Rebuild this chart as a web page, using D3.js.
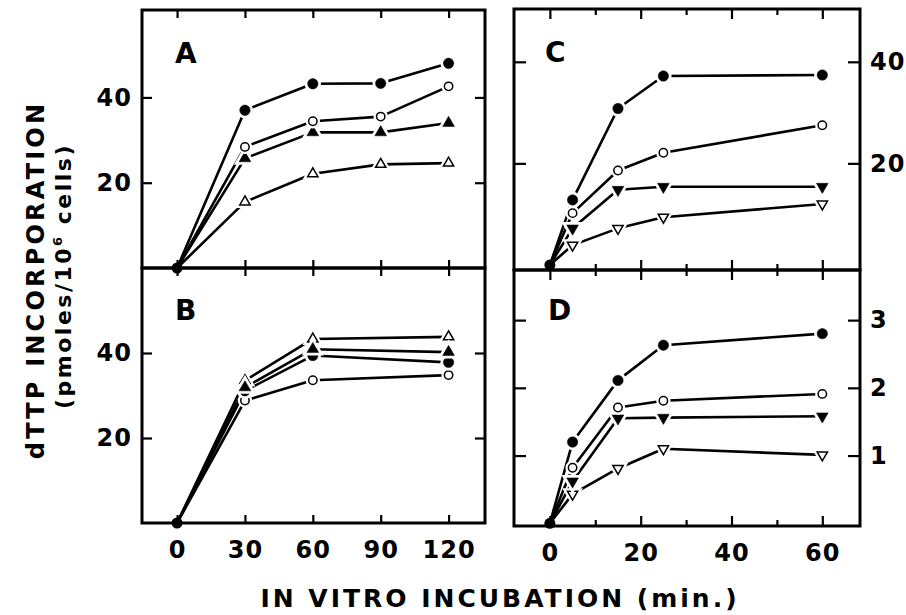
<!DOCTYPE html>
<html>
<head>
<meta charset="utf-8">
<script src="https://cdn.jsdelivr.net/npm/d3@7"></script>
<style>
  body { margin: 0; background: #fff; }
  text { font-family: "DejaVu Sans", "Liberation Sans", sans-serif; fill: #000; }
</style>
</head>
<body>
<div id="chart"></div>
<script>
// x values (minutes)
const timesA = [0, 30, 60, 90, 120];
const timesB = [0, 30, 60, 120];
const timesCD = [0, 5, 15, 25, 60];

// panel A
const aClosedCircle = [0, 37.0, 43.2, 43.3, 48.0];
const aOpenCircle = [0, 28.4, 34.4, 35.5, 42.6];
const aClosedTriangle = [0, 25.7, 31.8, 31.8, 34.0];
const aOpenTriangle = [0, 15.5, 22.1, 24.3, 24.6];

// panel B
const bOpenTriangle = [0, 33.5, 43.3, 43.8];
const bClosedTriangle = [0, 31.9, 40.9, 40.2];
const bClosedCircle = [0, 31.1, 39.4, 37.8];
const bOpenCircle = [0, 28.8, 33.6, 34.8];

// panel C
const cClosedCircle = [0, 12.8, 30.8, 37.2, 37.4];
const cOpenCircle = [0, 10.2, 18.6, 22.1, 27.5];
const cClosedDown = [0, 7.2, 14.8, 15.4, 15.4];
const cOpenDown = [0, 3.9, 7.2, 9.4, 12.0];

// panel D
const dClosedCircle = [0, 1.20, 2.11, 2.63, 2.80];
const dOpenCircle = [0, 0.82, 1.71, 1.81, 1.91];
const dClosedDown = [0, 0.62, 1.55, 1.56, 1.58];
const dOpenDown = [0, 0.43, 0.81, 1.10, 1.01];

// tick values
const ticksXLeft = [0, 30, 60, 90, 120];
const ticksXRightMajor = [0, 20, 40, 60];
const ticksXRightMinor = [10, 30, 50];
const ticksYAB = [20, 40];
const ticksYC = [20, 40];
const ticksYD = [1, 2, 3];

var width = 906, height = 615;
var svg = d3.select("#chart").append("svg").attr("width", width).attr("height", height);

var xLeft = d3.scaleLinear().domain([-15.5, 136.1]).range([142, 485]);
var xRight = d3.scaleLinear().domain([-7.9, 68.3]).range([514, 860]);

var panels = [
  { name: "A", x: xLeft, y: d3.scaleLinear().domain([0, 60.5]).range([268, 10]),
    times: timesA, xTicks: [ticksXLeft], xTickLen: [8], yTicks: ticksYAB, yTickLen: 10,
    series: [[aOpenTriangle, "tri", false], [aClosedTriangle, "tri", true], [aOpenCircle, "circle", false], [aClosedCircle, "circle", true]],
    leftLabels: true, rightLabels: false, bottomLabels: false, lx: 175, ly: 63 },
  { name: "B", x: xLeft, y: d3.scaleLinear().domain([0, 60]).range([523, 268]),
    times: timesB, xTicks: [ticksXLeft], xTickLen: [8], yTicks: ticksYAB, yTickLen: 10,
    series: [[bOpenCircle, "circle", false], [bOpenTriangle, "tri", false], [bClosedCircle, "circle", true], [bClosedTriangle, "tri", true]],
    leftLabels: true, rightLabels: false, bottomLabels: true, lx: 175, ly: 320 },
  { name: "C", x: xRight, y: d3.scaleLinear().domain([-1, 50.4]).range([270, 9]),
    times: timesCD, xTicks: [ticksXRightMajor, ticksXRightMinor], xTickLen: [10, 6], yTicks: ticksYC, yTickLen: 12,
    series: [[cOpenDown, "down", false], [cClosedDown, "down", true], [cOpenCircle, "circle", false], [cClosedCircle, "circle", true]],
    leftLabels: false, rightLabels: true, bottomLabels: false, lx: 545, ly: 62 },
  { name: "D", x: xRight, y: d3.scaleLinear().domain([-0.04, 3.74]).range([526, 270]),
    times: timesCD, xTicks: [ticksXRightMajor, ticksXRightMinor], xTickLen: [10, 6], yTicks: ticksYD, yTickLen: 12,
    series: [[dOpenDown, "down", false], [dClosedDown, "down", true], [dOpenCircle, "circle", false], [dClosedCircle, "circle", true]],
    leftLabels: false, rightLabels: true, bottomLabels: true, lx: 548, ly: 320 }
];

function symbolPath(kind, filled) {
  if (kind == "circle") return d3.symbol().type(d3.symbolCircle).size(filled ? 85 : 55)();
  return d3.symbol().type(d3.symbolTriangle).size(filled ? 60 : 46)();
}

function styleAxis(a) {
  a.select(".domain").remove();
  a.selectAll("line").attr("stroke", "#000").attr("stroke-width", 2.2);
  a.selectAll("text").attr("font-size", 24).attr("font-weight", "bold").attr("letter-spacing", 1);
}

panels.forEach(function(p) {
  var x = p.x, y = p.y;
  var x0 = x.range()[0], x1 = x.range()[1];
  var yb = y.range()[0], yt = y.range()[1];
  var g = svg.append("g");

  // x ticks (inward, top and bottom)
  p.xTicks.forEach(function(vals, i) {
    var len = p.xTickLen[i];
    var bottom = g.append("g").attr("transform", "translate(0," + yb + ")")
      .call(d3.axisBottom(x).tickValues(vals).tickSizeInner(-len).tickSizeOuter(0).tickPadding(18)
        .tickFormat(p.bottomLabels && i == 0 ? d3.format("d") : ""));
    var top = g.append("g").attr("transform", "translate(0," + yt + ")")
      .call(d3.axisTop(x).tickValues(vals).tickSizeInner(-len).tickSizeOuter(0).tickFormat(""));
    styleAxis(bottom);
    styleAxis(top);
  });

  // y ticks (inward, left and right)
  var left = g.append("g").attr("transform", "translate(" + x0 + ",0)")
    .call(d3.axisLeft(y).tickValues(p.yTicks).tickSizeInner(-p.yTickLen).tickSizeOuter(0).tickPadding(10)
      .tickFormat(p.leftLabels ? d3.format("d") : ""));
  var right = g.append("g").attr("transform", "translate(" + x1 + ",0)")
    .call(d3.axisRight(y).tickValues(p.yTicks).tickSizeInner(-p.yTickLen).tickSizeOuter(0).tickPadding(10)
      .tickFormat(p.rightLabels ? d3.format("d") : ""));
  styleAxis(left);
  styleAxis(right);

  // frame
  g.append("rect").attr("x", x0).attr("y", yt).attr("width", x1 - x0).attr("height", yb - yt)
    .attr("fill", "none").attr("stroke", "#000").attr("stroke-width", 3);

  // panel letter
  g.append("text").attr("x", p.lx).attr("y", p.ly).attr("font-size", 28).attr("font-weight", "bold").text(p.name);

  var line = d3.line().x(function(d) { return x(d[0]); }).y(function(d) { return y(d[1]); });

  p.series.forEach(function(s) {
    var pts = p.times.map(function(t, i) { return [t, s[0][i]]; });
    g.append("path").attr("d", line(pts)).attr("fill", "none").attr("stroke", "#000").attr("stroke-width", 2.6)
      .attr("stroke-linejoin", "round");
  });

  p.series.forEach(function(s) {
    var kind = s[1], filled = s[2];
    p.times.forEach(function(t, i) {
      if (i == 0) return;
      var tr = "translate(" + x(t) + "," + y(s[0][i]) + ")" + (kind == "down" ? " rotate(180)" : "");
      g.append("path").attr("d", symbolPath(kind, filled)).attr("transform", tr)
        .attr("fill", "#fff").attr("stroke", "#fff").attr("stroke-width", 6);
      g.append("path").attr("d", symbolPath(kind, filled)).attr("transform", tr)
        .attr("fill", filled ? "#000" : "#fff").attr("stroke", "#000").attr("stroke-width", filled ? 0.5 : 1.5);
    });
  });

  // common origin point
  g.append("circle").attr("cx", x(0)).attr("cy", y(0)).attr("r", 5.5).attr("fill", "#000");
});

// axis titles
svg.append("text").attr("transform", "translate(44,280) rotate(-90)").attr("text-anchor", "middle")
  .attr("font-size", 24).attr("font-weight", "bold").attr("letter-spacing", 3.2).text("dTTP INCORPORATION");
var t2 = svg.append("text").attr("transform", "translate(71,276) rotate(-90)").attr("text-anchor", "middle")
  .attr("font-size", 22).attr("font-weight", "bold").attr("letter-spacing", 2.5);
t2.append("tspan").text("(pmoles/10");
t2.append("tspan").attr("dy", -9).attr("font-size", 13).text("6");
t2.append("tspan").attr("dy", 9).text(" cells)");

svg.append("text").attr("x", 500).attr("y", 607).attr("text-anchor", "middle")
  .attr("font-size", 25).attr("font-weight", "bold").attr("letter-spacing", 3).text("IN VITRO INCUBATION (min.)");
</script>
</body>
</html>
